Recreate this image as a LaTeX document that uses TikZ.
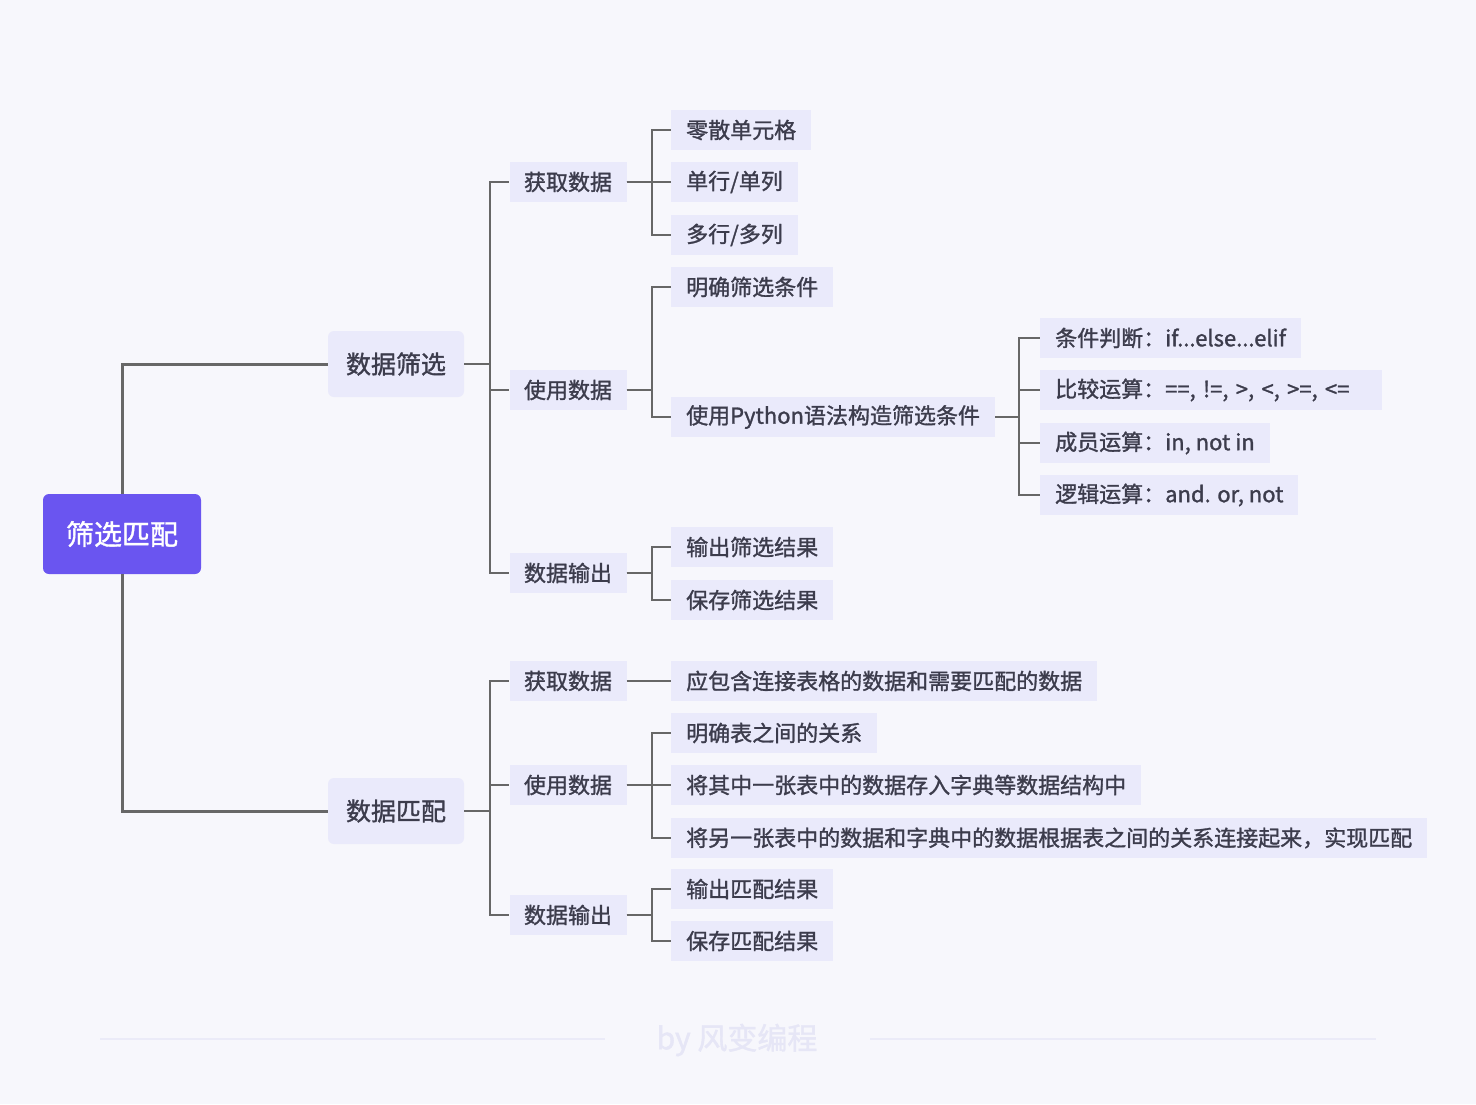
\documentclass[tikz,border=0pt]{standalone}
\usepackage{fontspec}
\setmainfont{Noto Sans CJK SC}[FakeBold=1.3]
\usepackage{xcolor}
\definecolor{bgcol}{HTML}{F7F7FC}
\definecolor{boxcol}{HTML}{EAEAFB}
\definecolor{rootcol}{HTML}{6A55F0}
\definecolor{linecol}{HTML}{676767}
\definecolor{txtcol}{HTML}{3C3C4C}
\definecolor{markcol}{HTML}{E6E6F6}
\tikzset{rootbox/.style={fill=rootcol, text=white, rounded corners=6pt,
  minimum width=158pt, minimum height=80pt, font=\fontsize{28pt}{32pt}\selectfont}}
\tikzset{topicbox/.style={fill=boxcol, text=txtcol, rounded corners=6pt,
  minimum width=136pt, minimum height=66pt, font=\fontsize{25pt}{29pt}\selectfont}}
\tikzset{subbox/.style={fill=boxcol, text=txtcol, minimum width=117pt,
  minimum height=40pt, font=\fontsize{22pt}{26pt}\selectfont}}
\tikzset{leafbox/.style={fill=boxcol, text=txtcol, anchor=west, inner xsep=15pt,
  minimum height=40pt, font=\fontsize{22pt}{26pt}\selectfont}}
\tikzset{thick link/.style={draw=linecol, line width=3pt}}
\tikzset{link/.style={draw=linecol, line width=2pt}}

\begin{document}
\begin{tikzpicture}[x=1pt, y=-1pt]

\fill[bgcol] (0,0) rectangle (1476,1104);
\useasboundingbox (0,0) rectangle (1476,1104);

\node[rootbox] (root) at (122,534) {筛选匹配};
\node[topicbox] (filt) at (396,364) {数据筛选};
\node[topicbox] (match) at (396,811) {数据匹配};

\node[subbox] (fget) at (568,182) {获取数据};
\node[subbox] (fuse) at (568,390) {使用数据};
\node[subbox] (fout) at (568,573) {数据输出};
\node[subbox] (mget) at (568,681) {获取数据};
\node[subbox] (muse) at (568,785) {使用数据};
\node[subbox] (mout) at (568,915) {数据输出};

\node[leafbox] (fget1) at (671,130) {零散单元格};
\node[leafbox] (fget2) at (671,182) {单行/单列};
\node[leafbox] (fget3) at (671,235) {多行/多列};
\node[leafbox] (fuse1) at (671,287) {明确筛选条件};
\node[leafbox] (fuse2) at (671,417) {使用Python语法构造筛选条件};
\node[leafbox] (fout1) at (671,547) {输出筛选结果};
\node[leafbox] (fout2) at (671,600) {保存筛选结果};
\node[leafbox] (mget1) at (671,681) {应包含连接表格的数据和需要匹配的数据};
\node[leafbox] (muse1) at (671,733) {明确表之间的关系};
\node[leafbox] (muse2) at (671,785) {将其中一张表中的数据存入字典等数据结构中};
\node[leafbox] (muse3) at (671,838) {将另一张表中的数据和字典中的数据根据表之间的关系连接起来，实现匹配};
\node[leafbox] (mout1) at (671,889) {输出匹配结果};
\node[leafbox] (mout2) at (671,941) {保存匹配结果};

\node[leafbox] (cond1) at (1040,338) {条件判断：if...else...elif};
\node[leafbox, minimum width=342pt, align=left, text width=312pt] (cond2) at (1040,390) {比较运算：==,\ !=,\ >,\ <,\ >=,\ <=};
\node[leafbox] (cond3) at (1040,443) {成员运算：in, not in};
\node[leafbox] (cond4) at (1040,495) {逻辑运算：and. or, not};

\draw[thick link] (root.north) |- (filt.west);
\draw[thick link] (root.south) |- (match.west);

\foreach \c in {fget,fuse,fout}
  \draw[link] (filt.east) -- ++(26,0) |- (\c.west);
\foreach \c in {mget,muse,mout}
  \draw[link] (match.east) -- ++(26,0) |- (\c.west);

\foreach \c in {fget1,fget2,fget3}
  \draw[link] (fget.east) -- ++(25,0) |- (\c.west);
\foreach \c in {fuse1,fuse2}
  \draw[link] (fuse.east) -- ++(25,0) |- (\c.west);
\foreach \c in {fout1,fout2}
  \draw[link] (fout.east) -- ++(25,0) |- (\c.west);
\draw[link] (mget.east) -- (mget1.west);
\foreach \c in {muse1,muse2,muse3}
  \draw[link] (muse.east) -- ++(25,0) |- (\c.west);
\foreach \c in {mout1,mout2}
  \draw[link] (mout.east) -- ++(25,0) |- (\c.west);
\foreach \c in {cond1,cond2,cond3,cond4}
  \draw[link] (fuse2.east) -- ++(24,0) |- (\c.west);

% footer
\node[text=markcol, font=\fontsize{30pt}{34pt}\selectfont] (mark) at (737,1040) {by 风变编程};
\draw[draw=markcol!70!bgcol, line width=2pt] (100,1039) -- (605,1039);
\draw[draw=markcol!70!bgcol, line width=2pt] (870,1039) -- (1376,1039);

\end{tikzpicture}
\end{document}
